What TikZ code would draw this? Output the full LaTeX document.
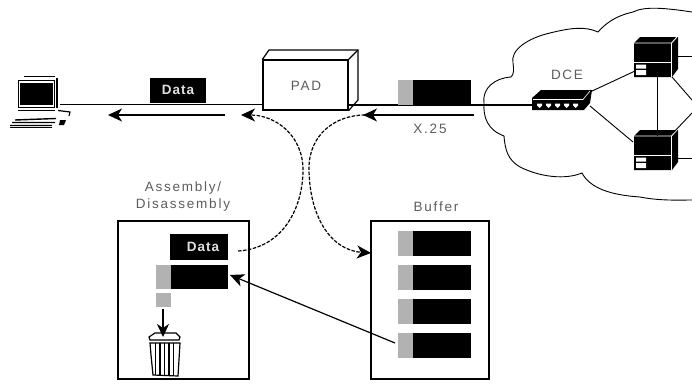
\documentclass[tikz,border=0pt]{standalone}
\usepackage{fontspec}
\setmainfont{Liberation Sans}
\newfontfamily\labfont[LetterSpace=13]{Liberation Sans}
\newfontfamily\datafont[LetterSpace=8]{Liberation Sans Bold}
\usetikzlibrary{arrows.meta}
\definecolor{labgray}{gray}{0.36}
\definecolor{hdr}{gray}{0.70}
\tikzset{
  ln/.style={draw=black,line width=1.1pt},
  thin ln/.style={draw=black,line width=0.9pt},
  lab/.style={font=\fontsize{13.5}{15}\selectfont\labfont,text=labgray,inner sep=0pt,align=center},
  datalab/.style={font=\fontsize{13.5}{14}\selectfont\datafont,text=white!88!black,inner sep=0pt},
  blk/.style={fill=black,draw=none,inner sep=0pt,minimum height=25pt},
  tip/.style={-{Stealth[length=14pt,width=13pt,inset=4pt]}},
  arr/.style={ln,tip,line width=1.2pt},
  dsh/.style={ln,tip,line width=1.2pt,dash pattern=on 3.5pt off 1.5pt},
}
\newcommand{\pkt}[2]{%
  \fill[hdr] (398,#1) rectangle (413,#1+25);
  \fill[black] (413,#1) rectangle (471,#1+25);
  \coordinate (#2) at (398,#1+12.5);
}
\newcommand{\srv}[2]{% top-left y of front, name
  \fill[black] (634,#1) -- (640,#1-6) -- (678,#1-6) -- (678,#1+26) -- (672,#1+34) -- (634,#1+34) -- cycle;
  \draw[white,line width=0.9pt] (634,#1+19.5) -- (671.5,#1+19.5) (671.5,#1) -- (671.5,#1+34) (634,#1) -- (671.5,#1) -- (677,#1-6);
  \fill[white] (636,#1+21.5) rectangle (646,#1+25.5) (636,#1+27) rectangle (646,#1+32);
  \coordinate (#2) at (653,#1+17);
}
\begin{document}
\begin{tikzpicture}[x=1pt,y=-1pt]
\useasboundingbox (0,0) rectangle (692,383);
% cloud
\draw[thin ln] (692,12) .. controls (665,8) and (645,6) .. (633,12)
  .. controls (615,16) and (605,24) .. (598,32)
  .. controls (585,26) and (570,28) .. (550,33)
  .. controls (528,38) and (510,50) .. (513,63)
  .. controls (514,70) and (514,74) .. (511,77)
  .. controls (495,78) and (482,88) .. (484,103)
  .. controls (483,118) and (488,130) .. (504,136)
  .. controls (505,150) and (508,160) .. (520,167)
  .. controls (540,177) and (565,180) .. (582,173)
  .. controls (590,188) and (610,195) .. (640,197)
  .. controls (660,201) and (680,200) .. (692,200);
% network links
\coordinate (dceTop) at (590,92);
\coordinate (dceBot) at (590,106);
\coordinate (eR1) at (692,56);
\coordinate (eR2) at (692,100);
\coordinate (eR3) at (692,113);
\coordinate (eR4) at (692,158);
\srv{43}{srvA}
\srv{136}{srvB}
\draw[thin ln] (657,77) -- (657,136);
\draw[thin ln] (dceTop) -- (635,71);
\draw[thin ln] (dceBot) -- (633,142);
\draw[thin ln] (672,77) -- (eR2);
\draw[thin ln] (673,133) -- (eR3);
\draw[thin ln] (678,56) -- (eR1);
\draw[thin ln] (678,158) -- (eR4);
% DCE device
\fill[black] (532,98) -- (541,90) -- (592,90) -- (590,103) -- (584,110) -- (532,110) -- cycle;
\foreach \x in {537,546,555,564,573} \fill[white] (\x,103.5) -- ++(5,0) -- ++(0,2) -- ++(-2.5,2.5) -- ++(-2.5,-2.5) -- cycle;
\draw[white,line width=0.6pt] (533,99.5) -- (583,99.5) -- (590,91);
\node[lab] (dcelab) at (567,75) {DCE};
\coordinate (dce) at (532,105);
% PAD
\node[draw=black,line width=1.2pt,fill=white,minimum width=85pt,minimum height=50pt,inner sep=0pt] (pad) at (305.5,85) {};
\draw[line width=1.2pt] (pad.north west) -- (269,50) -- (358,50) -- (358,100) -- (pad.south east);
\draw[line width=1.2pt] (pad.north east) -- (358,50);
\node[lab] (padlab) at (306,86) {PAD};
% laptop
\coordinate (lapEnd) at (60,104.5);
\draw[line width=1.4pt] (24,76.5) -- (55,76.5);
\draw[line width=1pt,fill=white] (18,80) rectangle (54,107);
\fill[black] (19.5,82.5) rectangle (52.5,105);
\draw[line width=1.2pt] (57,78) -- (57,108);
\draw[line width=1.2pt] (18,110.5) -- (55,110.5);
\draw[line width=1.2pt] (58,110.5) -- (70,112) -- (69,116);
\fill[black] (60,120) -- (66,120) -- (64,125) -- (59,125) -- cycle;
\draw[line width=1.4pt] (15,120) -- (56,118.5) (12,122.5) -- (55,122.5) (10,125.5) -- (52,125.5);
\draw[line width=1.2pt] (10,127.5) -- (52,127.5);
% main line
\draw[ln] (lapEnd) -- (pad.west |- 0,104.5);
\draw[ln] (pad.east |- 0,105) -- (dce);
% packets top
\node[blk,minimum width=56pt] (d1) at (178,90) {};
\node[datalab] (d1t) at (178,90) {Data};
\pkt{79.5}{p0}
% arrows on lines
\coordinate (a1s) at (225,115);
\coordinate (a1e) at (108,115);
\coordinate (a2s) at (474,115);
\coordinate (a2e) at (363,115);
\draw[arr] (a1s) -- (a1e);
\draw[arr] (a2s) -- (a2e);
\node[lab] (x25) at (430,128.5) {X.25};
% assembly box
\node[lab] (asm) at (183,197) {Assembly/\\[2pt]Disassembly};
\node[draw=black,line width=1.1pt,minimum width=131pt,minimum height=158pt,inner sep=0pt] (asmbox) at (183.5,300) {};
\node[blk,minimum width=58pt,minimum height=26pt] (d2) at (199,247) {};
\node[datalab] (d2t) at (203,247) {Data};
\fill[hdr] (156,265) rectangle (171,289);
\fill[black] (171,265) rectangle (228,289);
\fill[hdr] (156,293) rectangle (171,307);
\coordinate (hdrS) at (163,309);
\coordinate (trash) at (163,337);
\coordinate (asmIn) at (230,275);
\coordinate (asmOut) at (238,251);
% trash can
\draw[line width=1.2pt,fill=white] (149,337) -- (155,333) -- (176,333) -- (180,337) -- (179,340) -- (150,340) -- cycle;
\draw[line width=1.2pt] (150,343) -- (151,355) -- (153,375) -- (178,376) -- (180,343) -- cycle;
\foreach \x in {155.5,160,164.5,169,173.5} \draw[line width=1.6pt] (\x,343) -- (\x,375);
\draw[arr,-{Stealth[length=13pt,width=12pt,inset=4pt]}] (hdrS) -- (trash);
% buffer box
\node[lab] (buf) at (436,207) {Buffer};
\node[draw=black,line width=1.1pt,minimum width=118pt,minimum height=158pt,inner sep=0pt] (bufbox) at (430,300) {};
\pkt{230.5}{p1}
\pkt{265}{p2}
\pkt{298.5}{p3}
\pkt{333}{p4}
% connectors
\coordinate (p4s) at (395,343);
\draw[arr] (p4s) -- (asmIn);
\coordinate (b1) at (241,115);
\coordinate (b2) at (365,115);
\coordinate (bufIn) at (371,253);
\draw[dsh] (asmOut) .. controls (285,248) and (303,205) .. (303,170) .. controls (303,135) and (275,115) .. (b1);
\draw[dsh] (b2) .. controls (335,115) and (309,135) .. (309,168) .. controls (309,215) and (330,250) .. (bufIn);
\end{tikzpicture}
\end{document}
